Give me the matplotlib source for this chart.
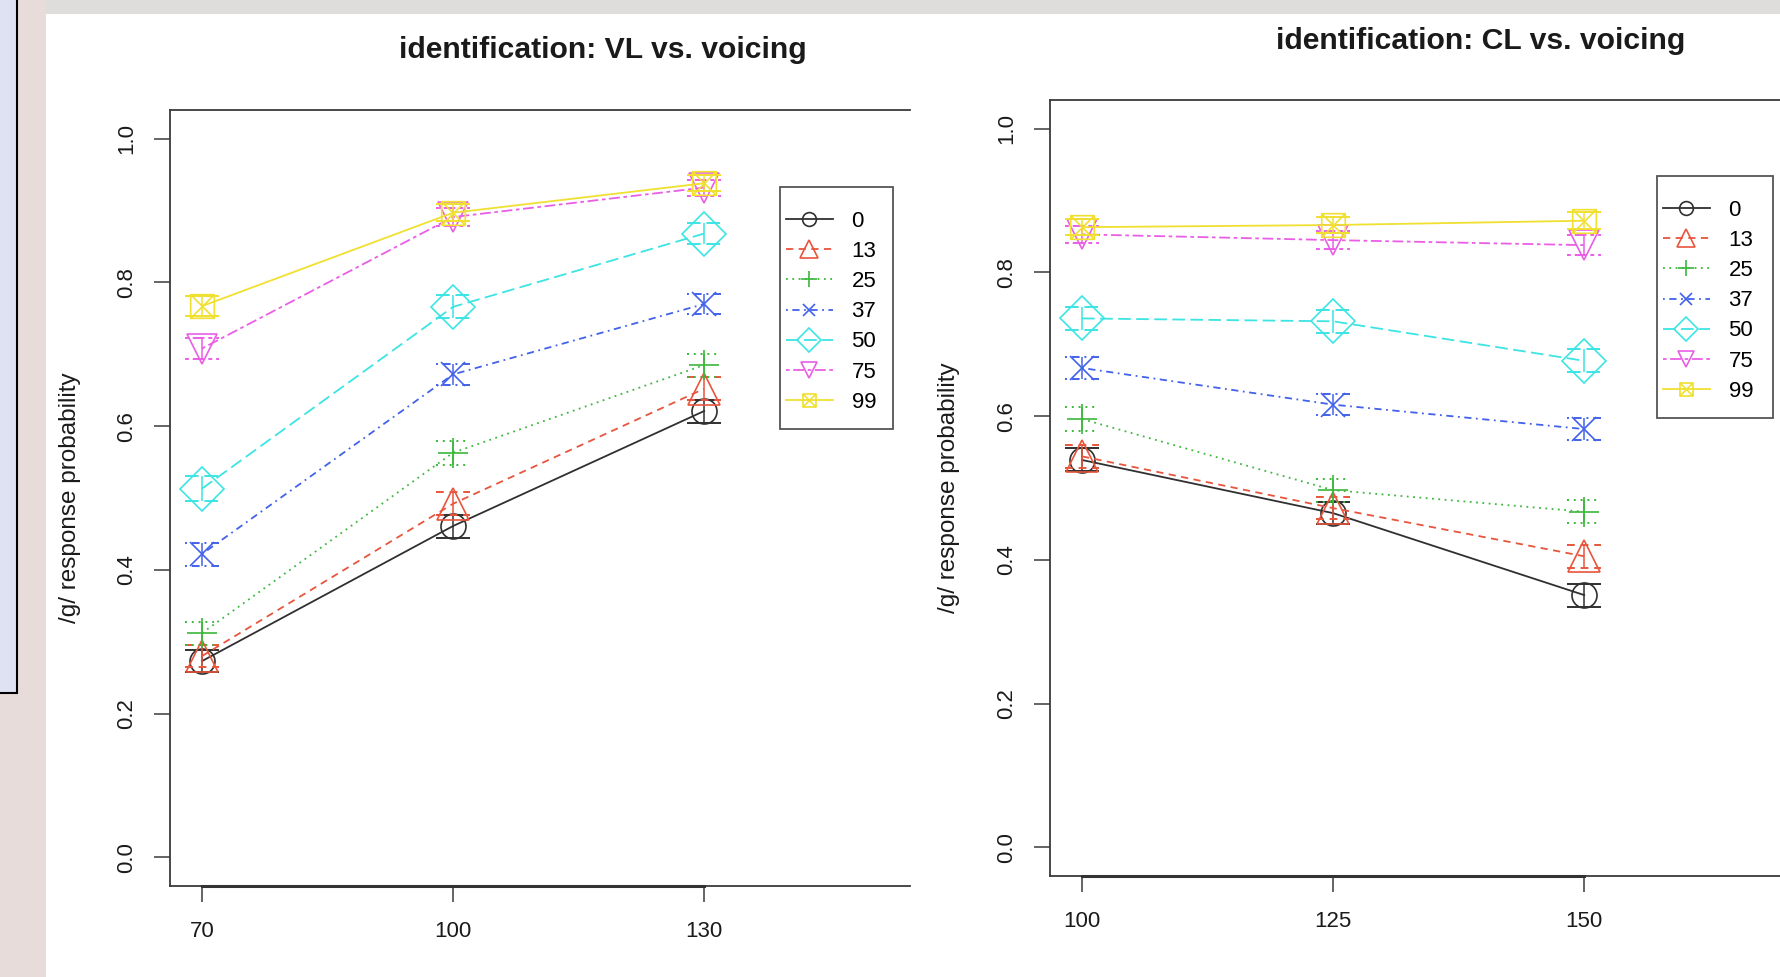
import matplotlib
matplotlib.use('Agg')
import matplotlib.pyplot as plt
from matplotlib.path import Path
from matplotlib.patches import Rectangle

plt.rcParams['font.family'] = ['Liberation Sans', 'DejaVu Sans']

# ---------------- data ----------------
groups = ['0', '13', '25', '37', '50', '75', '99']

vl_x = [70, 100, 130]
vl_g0 = [0.273, 0.461, 0.621]
vl_g13 = [0.280, 0.492, 0.652]
vl_g25 = [0.312, 0.563, 0.685]
vl_g37 = [0.422, 0.672, 0.770]
vl_g50 = [0.513, 0.766, 0.868]
vl_g75 = [0.708, 0.891, 0.932]
vl_g99 = [0.767, 0.897, 0.938]
vl_se = [[0.015, 0.016, 0.016], [0.015, 0.016, 0.016], [0.016, 0.017, 0.016],
         [0.016, 0.015, 0.014], [0.017, 0.016, 0.015], [0.015, 0.012, 0.011],
         [0.014, 0.012, 0.011]]

cl_x = [100, 125, 150]
cl_g0 = [0.539, 0.465, 0.351]
cl_g13 = [0.544, 0.472, 0.405]
cl_g25 = [0.596, 0.497, 0.467]
cl_g37 = [0.667, 0.616, 0.582]
cl_g50 = [0.736, 0.732, 0.677]
cl_g75 = [0.853, 0.845, 0.838]
cl_g99 = [0.863, 0.866, 0.872]
cl_se = [[0.016, 0.015, 0.016], [0.016, 0.015, 0.016], [0.017, 0.016, 0.016],
         [0.015, 0.015, 0.015], [0.016, 0.016, 0.016], [0.012, 0.013, 0.014],
         [0.011, 0.011, 0.012]]

y_ticks = [0.0, 0.2, 0.4, 0.6, 0.8, 1.0]
y_ticklabels = ['0.0', '0.2', '0.4', '0.6', '0.8', '1.0']

vl_series = [vl_g0, vl_g13, vl_g25, vl_g37, vl_g50, vl_g75, vl_g99]
cl_series = [cl_g0, cl_g13, cl_g25, cl_g37, cl_g50, cl_g75, cl_g99]

# ---------------- styles ----------------
colors = ['#303030', '#e8553d', '#3cb83c', '#4262ea', '#3ce4e4', '#ea5ee6', '#f0e030']
linestyles = ['-', (0, (4, 3)), (0, (1, 2.5)), (0, (1, 2.5, 4, 2.5)),
              (0, (7, 3)), (0, (2, 2, 6, 2)), '-']
sqx = Path([(-1, -1), (1, -1), (1, 1), (-1, 1), (-1, -1),
            (-1, -1), (1, 1), (-1, 1), (1, -1)],
           [Path.MOVETO, Path.LINETO, Path.LINETO, Path.LINETO, Path.CLOSEPOLY,
            Path.MOVETO, Path.LINETO, Path.MOVETO, Path.LINETO])
markers = ['o', '^', '+', 'x', 'D', 'v', sqx]
msizes = [18, 23, 21, 17, 22, 22, 17]

W, H = 1780, 977
fig = plt.figure(figsize=(W / 100, H / 100), dpi=100)
fig.patch.set_facecolor('#dfdddb')


def fx(px):
    return px / W


def fy(py):
    return 1 - py / H


# background decoration of the screenshot
fig.add_artist(Rectangle((0, 0), fx(46), 1, transform=fig.transFigure,
                         facecolor='#e8dcdb', edgecolor='none', zorder=-5))
fig.add_artist(Rectangle((fx(-2), fy(693)), fx(19), 1 - fy(693) + 0.01,
                         transform=fig.transFigure, facecolor='#dfe2f3',
                         edgecolor='black', linewidth=1.5, zorder=-4))
fig.add_artist(Rectangle((fx(46), 0), 1 - fx(46), fy(14), transform=fig.transFigure,
                         facecolor='white', edgecolor='none', zorder=-5))

axis_col = '#3a3a3a'
CAP_PX = 17  # half width of error-bar caps in pixels


def make_panel(rect, xvals, series, ses, xlim, leg_box, leg_anchor, title,
               title_pos, ylabel_pos):
    ax = fig.add_axes(rect)
    ax.set_facecolor('none')
    ax.set_xlim(*xlim)
    ax.set_ylim(-0.04, 1.04)
    ax_w_px = rect[2] * W
    cap = CAP_PX * (xlim[1] - xlim[0]) / ax_w_px
    lines = []
    for i, g in enumerate(groups):
        ln, = ax.plot(xvals, series[i], color=colors[i], linestyle=linestyles[i],
                      linewidth=1.3, marker=markers[i], markersize=msizes[i],
                      markerfacecolor='none', markeredgecolor=colors[i],
                      markeredgewidth=1.2, label=g, zorder=3 + i)
        lo = [m - e for m, e in zip(series[i], ses[i])]
        hi = [m + e for m, e in zip(series[i], ses[i])]
        ax.vlines(xvals, lo, hi, color=colors[i], linewidth=1.1, zorder=3 + i)
        xl = [x - cap for x in xvals]
        xr = [x + cap for x in xvals]
        ax.hlines(lo, xl, xr, color=colors[i], linestyle=linestyles[i],
                  linewidth=1.4, zorder=3 + i)
        ax.hlines(hi, xl, xr, color=colors[i], linestyle=linestyles[i],
                  linewidth=1.4, zorder=3 + i)
        lines.append(ln)
    ax.set_xticks(xvals)
    ax.set_xticklabels([str(v) for v in xvals])
    ax.set_yticks(y_ticks)
    ax.set_yticklabels(y_ticklabels)
    for s in ['left', 'top', 'bottom']:
        ax.spines[s].set_color(axis_col)
        ax.spines[s].set_linewidth(1.3)
    ax.spines['right'].set_visible(False)
    ax.tick_params(axis='both', direction='out', length=11.5, width=1.1,
                   color=axis_col, labelsize=16, labelcolor='#1a1a1a')
    ax.tick_params(axis='x', pad=14)
    ax.tick_params(axis='y', pad=12)
    for lab in ax.get_yticklabels():
        lab.set_rotation(90)
        lab.set_va('center')
        lab.set_ha('right')
    # R axis line drawn over the box between the first and last tick
    ax.plot([xvals[0], xvals[-1]], [0, 0], transform=ax.get_xaxis_transform(),
            color='#333333', linewidth=2.2, clip_on=False, zorder=20)
    # legend (box drawn as in R)
    ax.add_patch(Rectangle((fx(leg_box[0]), fy(leg_box[3])),
                           fx(leg_box[2]) - fx(leg_box[0]),
                           fy(leg_box[1]) - fy(leg_box[3]),
                           transform=fig.transFigure, facecolor='white',
                           edgecolor='#555555', linewidth=1.3, zorder=25,
                           clip_on=False))
    leg = ax.legend(handles=lines, loc='upper left', bbox_to_anchor=leg_anchor,
                    bbox_transform=fig.transFigure, fontsize=16, frameon=False,
                    borderpad=0, labelspacing=0.41, handlelength=2.1,
                    handletextpad=0.85, markerscale=0.55, borderaxespad=0)
    leg.set_zorder(30)
    fig.text(title_pos[0], title_pos[1], title, ha='center', va='center',
             fontsize=21.7, fontweight='bold', color='#1a1a1a')
    fig.text(ylabel_pos[0], ylabel_pos[1], '/g/ response probability', rotation=90,
             ha='center', va='center', fontsize=17.5, color='#1a1a1a')
    return ax


# left panel: VL
make_panel([fx(170), fy(886), fx(910) - fx(170), fy(110) - fy(886)],
           vl_x, vl_series, vl_se, (66.18, 154.6),
           (780, 187, 893, 429), (fx(786), fy(211)),
           'identification: VL vs. voicing', (fx(603), fy(50)), (fx(70), fy(498)))

# right panel: CL
make_panel([fx(1050), fy(876), 1 - fx(1050), fy(100) - fy(876)],
           cl_x, cl_series, cl_se, (96.81, 169.5),
           (1657, 176, 1773, 418), (fx(1663), fy(200)),
           'identification: CL vs. voicing', (fx(1481), fy(41)), (fx(949), fy(488)))

fig.savefig('out.png', dpi=100, facecolor=fig.get_facecolor())
